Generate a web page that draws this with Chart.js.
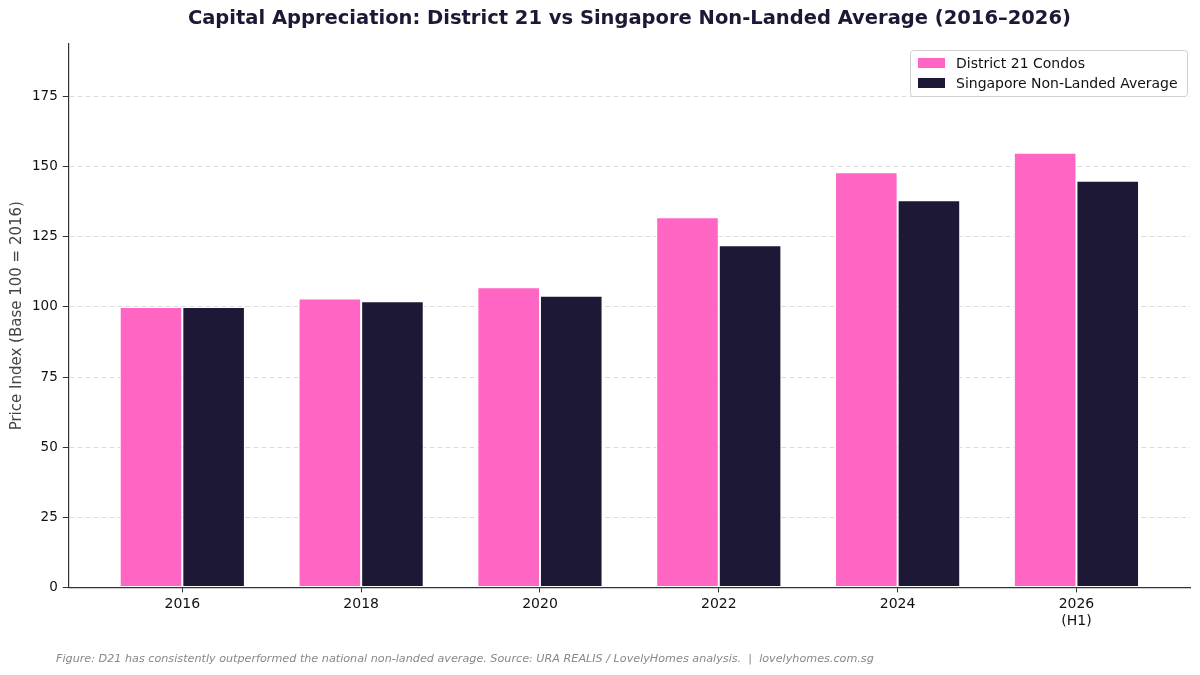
<!DOCTYPE html>
<html><head><meta charset="utf-8">
<script src="https://cdn.jsdelivr.net/npm/chart.js@4.4.1/dist/chart.umd.min.js"></script>
<style>html,body{margin:0;padding:0;background:#fff}#wrap{width:1200px;height:675px;position:relative}</style>
</head><body><div id="wrap"><canvas id="c"></canvas></div>
<script>
const categories = [["2016"],["2018"],["2020"],["2022"],["2024"],["2026","(H1)"]];
const d21Values = [100, 103, 107, 132, 148, 155];
const sgValues = [100, 102, 104, 122, 138, 145];
const seriesNames = ["District 21 Condos", "Singapore Non-Landed Average"];
const yTicks = [0, 25, 50, 75, 100, 125, 150, 175];
const titleText = 'Capital Appreciation: District 21 vs Singapore Non-Landed Average (2016–2026)';
const footerText = 'Figure: D21 has consistently outperformed the national non-landed average. Source: URA REALIS / LovelyHomes analysis.  |  lovelyhomes.com.sg';

const PINK = '#FF66C4', DARK = '#1C1835';
const FONT = "'DejaVu Sans', sans-serif";

const textPlugin = {
  id: 'textDecor',
  afterDraw(chart) {
    const ctx = chart.ctx, ca = chart.chartArea;
    ctx.save();
    // title centered over the plot area
    ctx.font = 'bold 19.5px ' + FONT;
    ctx.fillStyle = DARK;
    ctx.textAlign = 'center';
    ctx.textBaseline = 'middle';
    ctx.fillText(titleText, (ca.left + ca.right) / 2, 19);
    // legend inside plot, upper right
    const w = 277, h = 46;
    const x = ca.right - 3 - w, y = ca.top + 6;
    ctx.fillStyle = 'rgba(255,255,255,0.9)';
    ctx.strokeStyle = '#d0d0d0';
    ctx.lineWidth = 1;
    ctx.beginPath();
    ctx.roundRect(x + 0.5, y + 0.5, w, h, 3);
    ctx.fill(); ctx.stroke();
    ctx.font = '14px ' + FONT;
    ctx.textAlign = 'left';
    chart.data.datasets.forEach((ds, i) => {
      const yy = y + 13 + i * 20;
      ctx.fillStyle = ds.backgroundColor;
      ctx.fillRect(x + 8, yy - 5, 27, 10);
      ctx.fillStyle = '#111';
      ctx.fillText(ds.label, x + 46, yy + 1);
    });
    // footer caption
    ctx.font = 'italic 11.2px ' + FONT;
    ctx.fillStyle = '#888';
    ctx.fillText(footerText, 56, 659);
    ctx.restore();
  }
};

new Chart(document.getElementById('c'), {
  type: 'bar',
  data: {
    datasets: [
      { label: seriesNames[0], data: d21Values.map((v, i) => ({x: i, y: v})), backgroundColor: PINK, borderColor: '#ffffff', borderWidth: 1, borderSkipped: false },
      { label: seriesNames[1], data: sgValues.map((v, i) => ({x: i, y: v})), backgroundColor: DARK, borderColor: '#ffffff', borderWidth: 1, borderSkipped: false }
    ]
  },
  options: {
    responsive: true, maintainAspectRatio: false, animation: false,
    devicePixelRatio: 1,
    categoryPercentage: 0.7, barPercentage: 1.0,
    layout: { padding: { left: 8, right: 10, top: 44, bottom: 41 } },
    plugins: {
      legend: { display: false },
      tooltip: { enabled: false },
      title: { display: false }
    },
    scales: {
      x: {
        type: 'linear', min: -0.635, max: 5.635, offset: false,
        afterBuildTicks: (s) => { s.ticks = categories.map((c, i) => ({ value: i })); },
        ticks: { color: '#111', font: { family: FONT, size: 14 }, padding: 4, autoSkip: false, maxRotation: 0,
          callback: (v) => categories[v] },
        grid: { display: true, offset: false, drawOnChartArea: false, drawTicks: true, tickLength: 5, tickColor: '#333', tickWidth: 1 },
        border: { display: true, color: '#333', width: 1.2 }
      },
      y: {
        min: 0, max: 193.75,
        afterBuildTicks: (s) => { s.ticks = yTicks.map(v => ({ value: v })); },
        ticks: { color: '#111', font: { family: FONT, size: 13.5 }, padding: 5 },
        title: { display: true, text: 'Price Index (Base 100 = 2016)', color: '#444', font: { family: FONT, size: 15 }, padding: { top: 0, bottom: 1 } },
        grid: { color: '#dddddd', lineWidth: 1, drawTicks: true, tickLength: 6, tickColor: '#333', tickBorderDash: [] },
        border: { display: true, color: '#333', width: 1.2, dash: [5, 3] }
      }
    }
  },
  plugins: [textPlugin]
});
</script></body></html>
